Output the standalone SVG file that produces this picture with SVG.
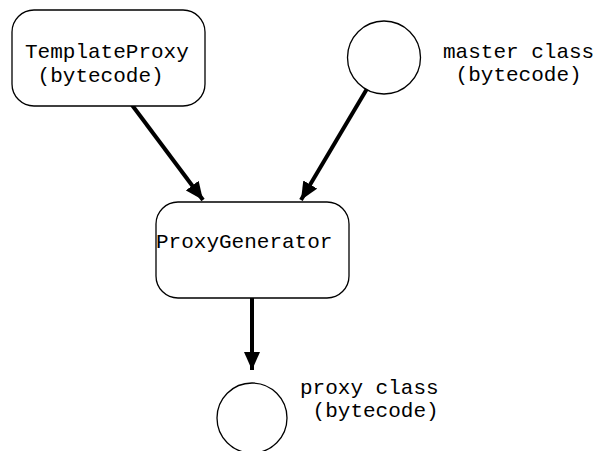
<svg xmlns="http://www.w3.org/2000/svg" width="597" height="451" viewBox="0 0 597 451">
<style>
.node{fill:#fff;stroke:#000;stroke-width:1.3}
.t{font-family:"Liberation Mono","Courier New",monospace;font-size:21px;fill:#000}
.edge{stroke:#000;stroke-width:4;fill:none}
</style>
<defs>
<marker id="ah" markerUnits="userSpaceOnUse" markerWidth="20" markerHeight="16" refX="18" refY="8" orient="auto">
<path d="M0,0 L18,8 L0,16 Z" fill="#000"/>
</marker>
</defs>
<rect width="597" height="451" fill="#fff"/>
<g id="connectors">
<line class="edge" x1="132" y1="105" x2="203" y2="200" marker-end="url(#ah)"/>
<line class="edge" x1="371" y1="82" x2="301" y2="200" marker-end="url(#ah)"/>
<line class="edge" x1="252" y1="298" x2="252" y2="370" marker-end="url(#ah)"/>
</g>
<g id="templateproxy">
<rect class="node" x="12" y="10" width="193" height="96" rx="22"/>
<text class="t" x="25" y="58" xml:space="preserve">TemplateProxy</text>
<text class="t" x="25" y="82" xml:space="preserve"> (bytecode)</text>
</g>
<g id="masterclass">
<circle class="node" cx="384" cy="57.5" r="36.5"/>
<text class="t" x="443" y="58" xml:space="preserve">master class</text>
<text class="t" x="443" y="81" xml:space="preserve"> (bytecode)</text>
</g>
<g id="proxygenerator">
<rect class="node" x="156" y="202" width="193" height="96" rx="22"/>
<text class="t" x="156" y="248">ProxyGenerator</text>
</g>
<g id="proxyclass">
<circle class="node" cx="252" cy="418" r="35"/>
<text class="t" x="300" y="394" xml:space="preserve">proxy class</text>
<text class="t" x="300" y="417" xml:space="preserve"> (bytecode)</text>
</g>
</svg>
